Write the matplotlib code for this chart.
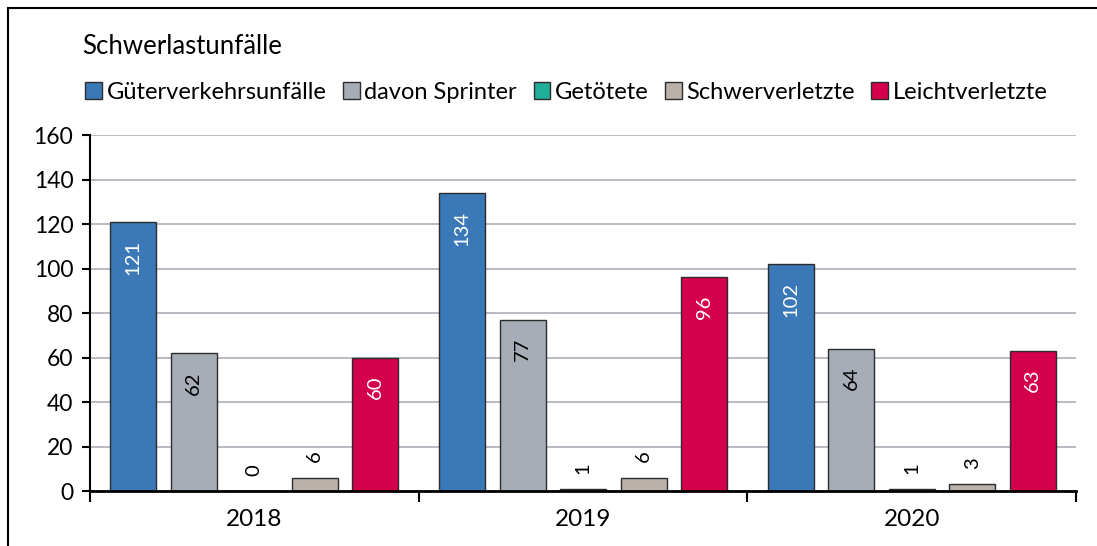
import numpy as np
import matplotlib
matplotlib.use('Agg')
import matplotlib.pyplot as plt
from matplotlib.patches import Patch, Rectangle

plt.rcParams['font.family'] = ['Lato', 'DejaVu Sans']

years = ['2018', '2019', '2020']
series = ['Güterverkehrsunfälle', 'davon Sprinter', 'Getötete', 'Schwerverletzte', 'Leichtverletzte']
gueter = [121, 134, 102]
sprinter = [62, 77, 64]
getoetete = [0, 1, 1]
schwer = [6, 6, 3]
leicht = [60, 96, 63]

values = [gueter, sprinter, getoetete, schwer, leicht]
colors = ['#3b78b8', '#a6adb6', '#1fae97', '#bab2aa', '#d5004c']
label_inside = [True, True, False, False, True]
label_color = ['white', 'black', 'black', 'black', 'white']

fig = plt.figure(figsize=(10.97, 5.46), dpi=100)
ax = fig.add_axes([0.082, 0.1007, 0.899, 0.652])

x = np.arange(len(years))
step = 0.184
width = 0.14

for i, (vals, col) in enumerate(zip(values, colors)):
    pos = x + (i - 2) * step
    ax.bar(pos, vals, width=width, color=col, edgecolor='#2b2b2b', linewidth=1.0, zorder=2)
    for p, v in zip(pos, vals):
        if label_inside[i]:
            ax.annotate(str(v), (p, v), xytext=(0, -13), textcoords='offset points',
                        ha='center', va='top', rotation=90, fontsize=14.5,
                        color=label_color[i], zorder=4)
        else:
            ax.annotate(str(v), (p, v), xytext=(0, 11), textcoords='offset points',
                        ha='center', va='bottom', rotation=90, fontsize=14.5,
                        color=label_color[i], zorder=4)

ax.set_xlim(-0.5, 2.5)
ax.set_ylim(0, 160)
ax.set_yticks(np.arange(0, 161, 20))
ax.yaxis.grid(True, color='#a9b0b8', linewidth=1.2, zorder=0)
ax.set_axisbelow(True)

ax.set_xticks(x)
ax.set_xticklabels(years)
ax.set_xticks([-0.5, 0.5, 1.5, 2.5], minor=True)
ax.tick_params(axis='x', which='major', length=0, labelsize=17.5, pad=13)
ax.tick_params(axis='x', which='minor', length=8, width=1.5, direction='out')
ax.tick_params(axis='y', length=6, width=1.5, direction='out', labelsize=16.5, pad=6)

for s in ['top', 'right']:
    ax.spines[s].set_visible(False)
ax.spines['left'].set_linewidth(1.5)
ax.spines['bottom'].set_linewidth(2)
ax.spines['bottom'].set_zorder(5)

fig.text(82 / 1097, 1 - 46 / 546, 'Schwerlastunfälle', fontsize=18.5, ha='left', va='center')

handles = [Patch(facecolor=c, edgecolor='#2b2b2b', linewidth=1.0) for c in colors]
fig.legend(handles, series, loc='center left', bbox_to_anchor=(76 / 1097, 1 - 92 / 546),
           ncol=5, frameon=False, fontsize=17, handlelength=0.7, handleheight=0.7,
           handletextpad=0.2, columnspacing=0.7, borderaxespad=0)

fig.patches.append(Rectangle((8 / 1097, -0.2), 1.2, 1.2 - 8 / 546,
                             transform=fig.transFigure, fill=False,
                             edgecolor='black', linewidth=1.5))

fig.savefig('out.png', dpi=100)
